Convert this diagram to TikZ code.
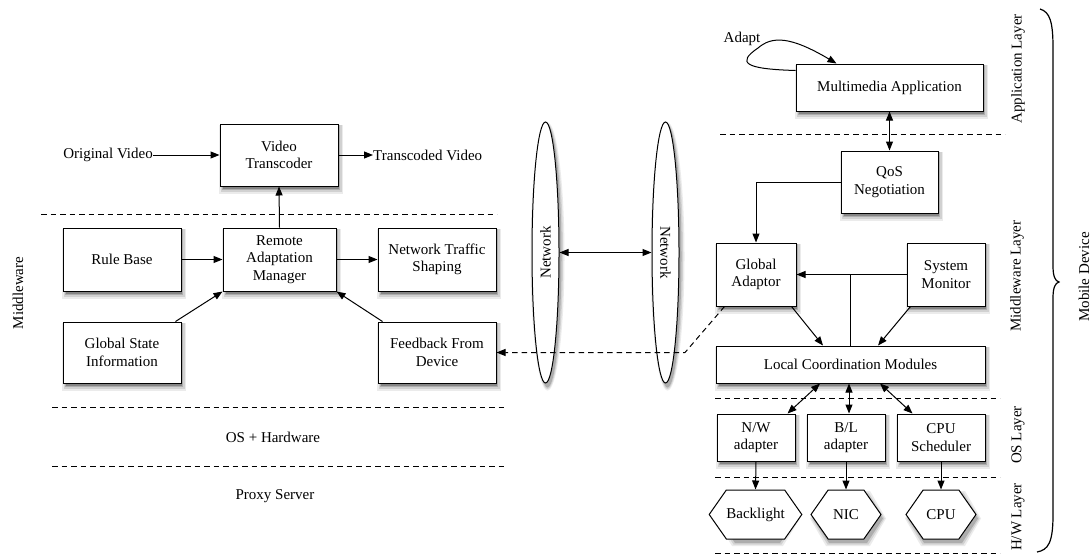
\documentclass[tikz,border=0pt]{standalone}
\usepackage{fontspec}
\setmainfont{Liberation Serif}
\usetikzlibrary{shapes.geometric,shapes.symbols,arrows.meta,calc}
\begin{document}
\begin{tikzpicture}[x=1pt,y=-1pt,
  font=\fontsize{15}{17.5}\selectfont,
  box/.style={draw, fill=white, line width=1pt, align=center, inner sep=0pt},
  hexa/.style={signal, signal to=east and west, signal pointer angle=110, draw, fill=white, line width=1pt, inner sep=0pt},
  net/.style={ellipse, draw, fill=white, line width=1pt, inner sep=0pt, minimum width=27, minimum height=261},
  arr/.style={-{Triangle[length=9pt,width=7pt]}, line width=1pt},
  darr/.style={{Triangle[length=9pt,width=7pt]}-{Triangle[length=9pt,width=7pt]}, line width=1pt},
  sep/.style={dash pattern=on 5.5pt off 4pt, line width=1pt},
  lbl/.style={inner sep=0pt},
  s1/.style={fill=black!8}, s2/.style={fill=black!18}, s3/.style={fill=black!32}, s4/.style={fill=black!48}
]
\useasboundingbox (0,0) rectangle (1091,554);

% ---------- shadows (drawn first, boxes cover them) ----------
\foreach \cx/\cy/\w/\h in {279/155/118/62, 122/259.5/118/63, 279.5/259.5/113/63, 437/259.5/118/63,
   122/352.5/118/61, 437/352.5/118/61, 889.5/87.5/187/47, 889.5/182/97/62, 756/274.5/80/63,
   946/274.5/78/63, 850.5/364.5/269/37, 756/437.5/78/47, 846/437.5/78/47, 941/437.5/88/47}{
  \path[s1] (\cx-\w/2-1, \cy+\h/2+8)   rectangle (\cx+\w/2+5, \cy-\h/2+1);
  \path[s2] (\cx-\w/2+0.5, \cy+\h/2+6) rectangle (\cx+\w/2+3.5, \cy-\h/2+1);
  \path[s3] (\cx-\w/2+2, \cy+\h/2+4)   rectangle (\cx+\w/2+2, \cy-\h/2+1);
  \path[s4] (\cx-\w/2+3, \cy+\h/2+2.5) rectangle (\cx+\w/2+1, \cy-\h/2+1);
}
\foreach \cx in {545.5, 665.5}{
  \path[s1] (\cx+2,256.5) ellipse [x radius=17, y radius=134];
  \path[s2] (\cx+2,256.5) ellipse [x radius=15.5, y radius=132.5];
  \path[s3] (\cx+2,256.5) ellipse [x radius=14, y radius=131];
}
\foreach \cx/\a/\b in {755.5/39.5/22.5, 846/35/19, 941/35/19}{
  \foreach \g/\st in {3/s1, 1.5/s2, 0/s3}{
    \path[\st] (\cx+2-\a-\g,518.5) -- (\cx+2-\b-\g,494-\g) -- (\cx+2+\b+\g,494-\g)
      -- (\cx+2+\a+\g,518.5) -- (\cx+2+\b+\g,543+\g) -- (\cx+2-\b-\g,543+\g) -- cycle;
  }
}

% ---------- separators ----------
\draw[sep] (41,214) -- (497,214);
\draw[sep] (52,407) -- (507,407);
\draw[sep] (52,466) -- (507,466);
\draw[sep] (720,134) -- (1005,134);
\draw[sep] (715,398) -- (1000,398);
\draw[sep] (715,477) -- (1000,477);
\draw[sep] (715,553) -- (1000,553);

% ---------- left side (proxy server) ----------
\node[box, minimum width=118, minimum height=62] (vt) at (279,155) {Video\\Transcoder};
\node[lbl, anchor=east] (ov) at (153,155) {Original Video};
\node[lbl, anchor=west] (tv) at (373,155) {Transcoded Video};
\node[box, minimum width=118, minimum height=63] (rb) at (122,259.5) {Rule Base};
\node[box, minimum width=113, minimum height=63] (ram) at (279.5,259.5) {Remote\\Adaptation\\Manager};
\node[box, minimum width=118, minimum height=63] (nts) at (437,259.5) {Network Traffic\\Shaping};
\node[box, minimum width=118, minimum height=61] (gsi) at (122,352.5) {Global State\\Information};
\node[box, minimum width=118, minimum height=61] (fb) at (437,352.5) {Feedback From\\Device};

\node[lbl, rotate=90] (mwl) at (18,293) {Middleware};
\node[lbl] (osh) at (273,437) {OS + Hardware};
\node[lbl] (ps) at (275,496) {Proxy Server};

\draw[arr] (ov.east) -- (vt.west);
\draw[arr] (vt.east) -- (tv.west);
\draw[arr] (ram.north) -- (vt.south);
\draw[arr] (rb.east) -- (ram.west);
\draw[arr] (ram.east) -- (nts.west);
\draw[arr] ($(gsi.north east)+(-6,0)$) -- (ram.south west);
\draw[arr] ($(fb.north west)+(5,0)$) -- (ram.south east);

% ---------- network ----------
\node[net] (n1) at (545.5,252.5) {\rotatebox{90}{Network}};
\node[net] (n2) at (665.5,252.5) {\rotatebox{-90}{Network}};
\draw[darr] (n1) -- (n2);

% ---------- right side (mobile device) ----------
\node[box, minimum width=187, minimum height=47] (mm) at (889.5,87.5) {Multimedia Application};
\node[box, minimum width=97, minimum height=62] (qos) at (889.5,182) {QoS\\Negotiation};
\node[box, minimum width=80, minimum height=63] (ga) at (756,274.5) {Global\\Adaptor};
\node[box, minimum width=78, minimum height=63] (sm) at (946,274.5) {System\\Monitor};
\node[box, minimum width=269, minimum height=37] (lcm) at (850.5,364.5) {Local Coordination Modules};
\node[box, minimum width=78, minimum height=47] (nw) at (756,437.5) {N/W\\adapter};
\node[box, minimum width=78, minimum height=47] (bl) at (846,437.5) {B/L\\adapter};
\node[box, minimum width=88, minimum height=47] (cs) at (941,437.5) {CPU\\Scheduler};
\node[hexa, minimum width=79, minimum height=49] (bk) at (755.5,514.5) {Backlight};
\node[hexa, minimum width=70, minimum height=49] (nic) at (846,514.5) {NIC};
\node[hexa, minimum width=70, minimum height=49] (cpu) at (941,514.5) {CPU};

\node[lbl] (ad) at (742,39) {Adapt};
\node[lbl, rotate=90] (al) at (1018,69) {Application Layer};
\node[lbl, rotate=90] (ml) at (1017,276) {Middleware Layer};
\node[lbl, rotate=90] (osl) at (1018,435) {OS Layer};
\node[lbl, rotate=90] (hwl) at (1018,517) {H/W Layer};
\node[lbl, rotate=90] (md) at (1084,277) {Mobile Device};

% Adapt self loop
\draw[arr] ($(mm.north west)+(0,7)$) .. controls (745,69) and (736,63) .. (758,48)
  .. controls (772,36) and (790,36) .. ($(mm.north west)+(41,0)$);

\draw[darr] (mm.south) -- (qos.north);
\draw[arr] (qos.west) -| (ga.north);
\draw[arr] (sm.west) -- (ga.east);
\coordinate (jn) at (lcm.north |- sm.west);
\draw[line width=1pt] (jn) -- (lcm.north);
\draw[arr] ($(ga.south east)+(-5,0)$) -- ($(lcm.north)+(-27.5,0)$);
\draw[arr] ($(sm.south west)+(4,0)$) -- ($(lcm.north)+(27.5,0)$);

\draw[darr] ($(lcm.south)+(-30.5,0)$) -- ($(nw.north east)+(-8,0)$);
\draw[darr] ($(lcm.south)+(-1.5,0)$) -- ($(bl.north)+(3,0)$);
\draw[darr] ($(lcm.south)+(29.5,0)$) -- ($(cs.north west)+(16,0)$);

\draw[arr] (nw.south) -- (bk.north);
\draw[arr] (bl.south) -- (nic.north);
\draw[arr] (cs.south) -- (cpu.north);

% dashed feedback link
\coordinate (fbk) at (685,352.5);
\draw[sep, arr] ($(ga.south west)+(9,0)$) -- (fbk) -- (fb.east);

% brace
\draw[line width=1.2pt] (1040,9) .. controls (1050,12) and (1053,22) .. (1053,48)
  -- (1053,266) .. controls (1053,276) and (1055,281) .. (1059,282)
  .. controls (1055,283) and (1053,288) .. (1053,298)
  -- (1053,515) .. controls (1053,543) and (1048,550) .. (1037,552);
\end{tikzpicture}
\end{document}
